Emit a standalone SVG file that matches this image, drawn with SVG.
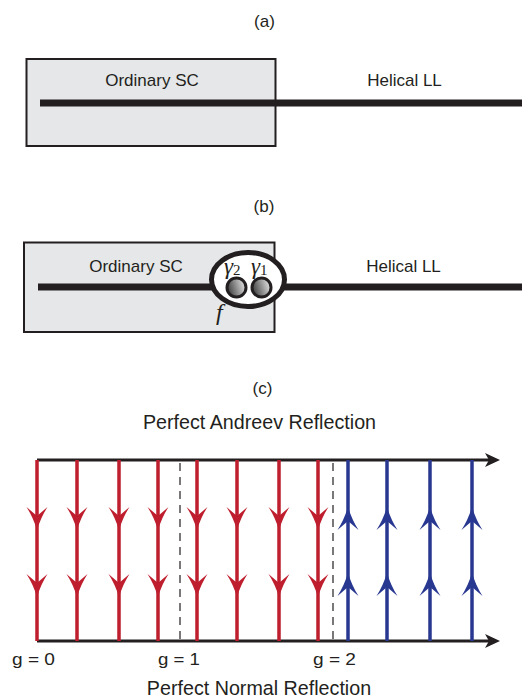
<svg xmlns="http://www.w3.org/2000/svg" width="522" height="699" viewBox="0 0 522 699">
<style>
  .lbl{font-family:"Liberation Sans",Arial,sans-serif;font-size:17px;fill:#231f20}
  .big{font-size:19.7px}
  .box{fill:#e6e7e8;stroke:#231f20;stroke-width:2}
  .wire{stroke:#231f20;stroke-width:7;fill:none}
  .axis{stroke:#231f20;stroke-width:3;fill:none}
  .red{stroke:#be1e2d;stroke-width:3.5;fill:none}
  .blue{stroke:#283891;stroke-width:3.5;fill:none}
  .dash{stroke:#231f20;stroke-width:1.2;stroke-dasharray:8 6;fill:none}
  .math{font-family:"Liberation Serif","Times New Roman",serif;font-style:italic;fill:#231f20}
</style>
<defs>
  <linearGradient id="ball" x1="0" y1="0.6" x2="1" y2="0.3">
    <stop offset="0" stop-color="#3c3c3c"/>
    <stop offset="1" stop-color="#e8e8e8"/>
  </linearGradient>
  <path id="headDown" d="M0,0 Q-4,-13 -10.5,-23 L0,-14 L10.5,-23 Q4,-13 0,0 Z"/>
  <path id="headRight" d="M0,0 L-15,-7 L-11,0 L-15,7 Z"/>
</defs>

<!-- (a) -->
<g id="panel-a">
  <text class="lbl" x="264.5" y="27" text-anchor="middle">(a)</text>
  <g id="sc-a">
    <rect class="box" x="26.5" y="59" width="249" height="87"/>
    <text class="lbl" x="152" y="86" text-anchor="middle">Ordinary SC</text>
  </g>
  <g id="ll-a">
    <line class="wire" x1="40" y1="103" x2="522" y2="103"/>
    <text class="lbl" x="404.5" y="86" text-anchor="middle">Helical LL</text>
  </g>
</g>

<!-- (b) -->
<g id="panel-b">
  <text class="lbl" x="264" y="211.5" text-anchor="middle">(b)</text>
  <g id="sc-b">
    <rect class="box" x="24" y="242.5" width="250.5" height="89.5"/>
    <text class="lbl" x="136" y="272" text-anchor="middle">Ordinary SC</text>
  </g>
  <g id="ll-b">
    <line class="wire" x1="38" y1="287" x2="522" y2="287"/>
    <text class="lbl" x="403.5" y="272" text-anchor="middle">Helical LL</text>
  </g>
  <g id="junction">
    <ellipse cx="248" cy="279.5" rx="36.5" ry="27" fill="#ffffff" stroke="#231f20" stroke-width="5"/>
    <circle cx="236.5" cy="287.5" r="9.5" fill="url(#ball)" stroke="#231f20" stroke-width="3"/>
    <circle cx="261.5" cy="287.5" r="9.5" fill="url(#ball)" stroke="#231f20" stroke-width="3"/>
    <text class="math" x="224" y="274" font-size="23">γ<tspan font-style="normal" font-size="15" dy="1">2</tspan></text>
    <text class="math" x="251" y="274" font-size="23">γ<tspan font-style="normal" font-size="15" dy="1">1</tspan></text>
    <text class="math" x="216" y="320" font-size="24">f</text>
  </g>
</g>

<!-- (c) -->
<g id="panel-c">
  <text class="lbl" x="262.5" y="394" text-anchor="middle">(c)</text>
  <text class="lbl big" x="259.5" y="429" text-anchor="middle">Perfect Andreev Reflection</text>
  <text class="lbl big" x="259" y="695" text-anchor="middle">Perfect Normal Reflection</text>
  <text class="lbl" x="12" y="665" font-size="18" textLength="43" lengthAdjust="spacingAndGlyphs">g = 0</text>
  <text class="lbl" x="158" y="665" font-size="18" textLength="42" lengthAdjust="spacingAndGlyphs">g = 1</text>
  <text class="lbl" x="313" y="665" font-size="18" textLength="43" lengthAdjust="spacingAndGlyphs">g = 2</text>
</g>

<g id="connectors">
  <!-- axes -->
  <line class="axis" x1="37" y1="460" x2="490" y2="460"/>
  <use href="#headRight" x="500" y="460" fill="#231f20"/>
  <line class="axis" x1="37" y1="641" x2="490" y2="641"/>
  <use href="#headRight" x="500" y="641" fill="#231f20"/>
  <!-- dashed separators -->
  <line class="dash" x1="180" y1="463" x2="180" y2="640"/>
  <line class="dash" x1="333" y1="463" x2="333" y2="640"/>
  <!-- red downward channels -->
  <g fill="#be1e2d">
    <line class="red" x1="37" y1="460" x2="37" y2="641"/>
    <line class="red" x1="77" y1="460" x2="77" y2="641"/>
    <line class="red" x1="119" y1="460" x2="119" y2="641"/>
    <line class="red" x1="158" y1="460" x2="158" y2="641"/>
    <line class="red" x1="197" y1="460" x2="197" y2="641"/>
    <line class="red" x1="237" y1="460" x2="237" y2="641"/>
    <line class="red" x1="279" y1="460" x2="279" y2="641"/>
    <line class="red" x1="318" y1="460" x2="318" y2="641"/>
    <use href="#headDown" x="37" y="530"/><use href="#headDown" x="37" y="597"/>
    <use href="#headDown" x="77" y="530"/><use href="#headDown" x="77" y="597"/>
    <use href="#headDown" x="119" y="530"/><use href="#headDown" x="119" y="597"/>
    <use href="#headDown" x="158" y="530"/><use href="#headDown" x="158" y="597"/>
    <use href="#headDown" x="197" y="530"/><use href="#headDown" x="197" y="597"/>
    <use href="#headDown" x="237" y="530"/><use href="#headDown" x="237" y="597"/>
    <use href="#headDown" x="279" y="530"/><use href="#headDown" x="279" y="597"/>
    <use href="#headDown" x="318" y="530"/><use href="#headDown" x="318" y="597"/>
  </g>
  <!-- blue upward channels -->
  <g fill="#283891">
    <line class="blue" x1="348" y1="460" x2="348" y2="641"/>
    <line class="blue" x1="387" y1="460" x2="387" y2="641"/>
    <line class="blue" x1="430" y1="460" x2="430" y2="641"/>
    <line class="blue" x1="472" y1="460" x2="472" y2="641"/>
    <use href="#headDown" transform="translate(348,507) rotate(180)"/><use href="#headDown" transform="translate(348,573) rotate(180)"/>
    <use href="#headDown" transform="translate(387,507) rotate(180)"/><use href="#headDown" transform="translate(387,573) rotate(180)"/>
    <use href="#headDown" transform="translate(430,507) rotate(180)"/><use href="#headDown" transform="translate(430,573) rotate(180)"/>
    <use href="#headDown" transform="translate(472,507) rotate(180)"/><use href="#headDown" transform="translate(472,573) rotate(180)"/>
  </g>
</g>
</svg>
